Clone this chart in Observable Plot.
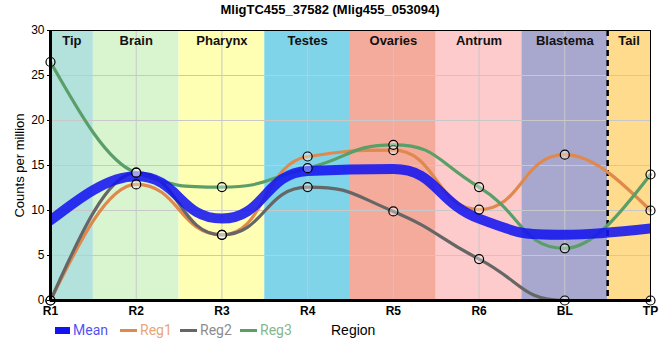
<!DOCTYPE html>
<html><head><meta charset="utf-8">
<script src="https://cdn.jsdelivr.net/npm/d3@7"></script>
<script src="https://cdn.jsdelivr.net/npm/@observablehq/plot@0.6"></script>
<style>
body{margin:0;background:#fff;font-family:"Liberation Sans",Arial,sans-serif;}
#wrap{position:relative;width:660px;height:360px;overflow:hidden;}
#title{height:20px;line-height:19px;text-align:center;font-weight:bold;font-size:13px;color:#000;}
#legend{position:relative;height:20px;font-family:Roboto,"Liberation Sans",sans-serif;font-size:14px;}
.item{position:absolute;top:0;height:20px;line-height:20px;display:flex;align-items:center;white-space:nowrap;}
.sw{display:inline-block;margin-right:3px;}
</style></head><body>
<div id="wrap">
<div id="title">MligTC455_37582 (Mlig455_053094)</div>
<div id="chart"></div>
<div id="legend"></div>
</div>
<script>
const categories = ["R1","R2","R3","R4","R5","R6","BL","TP"];
const regionNames = ["Tip","Brain","Pharynx","Testes","Ovaries","Antrum","Blastema","Tail"];
const regionColors = ["#b3e2dd","#d9f5d0","#ffffb4","#7fd4ea","#f4ab9c","#fdcbcb","#a8a8cf","#fedb8d"];
const meanVals = [8.9, 13.8, 9.1, 14.4, 14.6, 9.1, 7.3, 8.0];
const reg1Vals = [0, 12.9, 7.3, 16.0, 16.7, 10.1, 16.2, 10.0];
const reg2Vals = [0, 14.2, 7.3, 12.6, 9.9, 4.6, 0, 0];
const reg3Vals = [26.5, 14.2, 12.6, 14.7, 17.3, 12.6, 5.8, 14.0];
const seriesNames = ["Mean","Reg1","Reg2","Reg3"];
const seriesColors = ["#1414f0","#e0894c","#666666","#5a9e68"];
const yTicks = [0,5,10,15,20,25,30];
const tailRegion = "Tail";

// Monotone cubic curve (Fritsch–Carlson tangents as in d3.curveMonotoneX);
// interior segments use Bezier handles at half the segment width so the
// transitions sit mid-way, end segments keep the usual one-third handles.
function curveSharpMonotone(context) {
  const A = 0.5, E = 1 / 3;
  let pts = [];
  const sign = v => v < 0 ? -1 : 1;
  return {
    areaStart() {}, areaEnd() {},
    lineStart() { pts = []; },
    point(x, y) { pts.push([+x, +y]); },
    lineEnd() {
      const n = pts.length;
      if (!n) return;
      context.moveTo(pts[0][0], pts[0][1]);
      if (n === 1) return;
      if (n === 2) { context.lineTo(pts[1][0], pts[1][1]); return; }
      const s = [], m = new Array(n);
      for (let i = 0; i < n - 1; i++) s.push((pts[i+1][1] - pts[i][1]) / (pts[i+1][0] - pts[i][0]));
      for (let i = 1; i < n - 1; i++) {
        const h0 = pts[i][0] - pts[i-1][0], h1 = pts[i+1][0] - pts[i][0];
        const p = (s[i-1] * h1 + s[i] * h0) / (h0 + h1);
        m[i] = (sign(s[i-1]) + sign(s[i])) * Math.min(Math.abs(s[i-1]), Math.abs(s[i]), 0.5 * Math.abs(p)) || 0;
      }
      m[0] = (3 * s[0] - m[1]) / 2;
      m[n-1] = (3 * s[n-2] - m[n-2]) / 2;
      for (let i = 0; i < n - 1; i++) {
        const [x0, y0] = pts[i], [x1, y1] = pts[i+1];
        const a = (i === 0 || i === n - 2) ? E : A;
        const dx = (x1 - x0) * a;
        context.bezierCurveTo(x0 + dx, y0 + dx * m[i], x1 - dx, y1 - dx * m[i+1], x1, y1);
      }
    }
  };
}

const last = categories.length - 1;
const bands = regionNames.map((name, i) => ({
  name, color: regionColors[i],
  x1: Math.max(0, i - 0.5), x2: Math.min(last, i + 0.5)
}));
const tailBand = bands.find(b => b.name === tailRegion);
const toRows = vals => vals.map((v, i) => ({i, v}));
const regs = [reg1Vals, reg2Vals, reg3Vals];
const idx = categories.map((_, i) => i);

const plot = Plot.plot({
  width: 660, height: 300,
  marginTop: 10, marginBottom: 20, marginLeft: 50, marginRight: 10,
  x: {type: "linear", domain: [0, last]},
  y: {domain: [0, 30]},
  color: {type: "identity"},
  style: {fontFamily: "'Liberation Sans', Arial, sans-serif", background: "transparent"},
  marks: [
    Plot.rect(bands, {x1: "x1", x2: "x2", y1: 0, y2: 30, fill: "color"}),
    Plot.gridX(idx, {stroke: "#c8c8c8", strokeOpacity: 1, strokeWidth: 1}),
    Plot.gridY(yTicks, {stroke: "#c8c8c8", strokeOpacity: 1, strokeWidth: 1}),
    Plot.text(bands, {x: d => (d.x1 + d.x2) / 2, y: 30, text: "name", dy: 10, fontWeight: "bold", fontSize: 13, fill: "#111"}),
    Plot.ruleX([tailBand.x1], {stroke: "#000", strokeWidth: 2.5, strokeDasharray: "6,4"}),
    ...regs.map((vals, k) => Plot.line(toRows(vals), {x: "i", y: "v", curve: curveSharpMonotone, stroke: seriesColors[k + 1], strokeWidth: 3.2})),
    Plot.line(toRows(meanVals), {x: "i", y: "v", curve: curveSharpMonotone, stroke: seriesColors[0], strokeWidth: 10, strokeOpacity: 0.88, clip: "frame"}),
    ...regs.map(vals => Plot.dot(toRows(vals), {x: "i", y: "v", r: 4.5, stroke: "#000", strokeWidth: 1.2, fill: "#fff", fillOpacity: 0.35})),
    Plot.frame({stroke: "#000", strokeWidth: 1}),
    Plot.ruleX([0], {stroke: "#000", strokeWidth: 3}),
    Plot.ruleY([0], {stroke: "#000", strokeWidth: 3}),
    Plot.axisY(yTicks, {tickSize: 3, tickPadding: 3, fontSize: 12, label: "Counts per million", labelAnchor: "center", labelArrow: "none", labelOffset: 36}),
    Plot.axisX(idx, {tickSize: 0, tickPadding: 6, fontSize: 12, fontWeight: "bold", tickFormat: i => categories[i], label: null})
  ]
});
document.getElementById("chart").appendChild(plot);
const yl = plot.querySelector('[aria-label="y-axis label"] text');
if (yl) { yl.setAttribute("font-size", "13"); }

const legend = document.getElementById("legend");
const lefts = [55, 120, 180, 240];
seriesNames.forEach((s, k) => {
  const it = document.createElement("div");
  it.className = "item";
  it.style.left = lefts[k] + "px";
  const sw = document.createElement("span");
  sw.className = "sw";
  sw.style.width = k === 0 ? "15px" : "17px";
  sw.style.height = k === 0 ? "7px" : "3px";
  sw.style.background = seriesColors[k];
  const tx = document.createElement("span");
  tx.textContent = s;
  tx.style.color = seriesColors[k];
  tx.style.opacity = 0.75;
  it.appendChild(sw); it.appendChild(tx);
  legend.appendChild(it);
});
const reg = document.createElement("div");
reg.className = "item";
reg.style.left = "331px";
reg.style.fontFamily = "'Liberation Sans', Arial, sans-serif";
reg.textContent = "Region";
legend.appendChild(reg);
</script>
</body></html>
